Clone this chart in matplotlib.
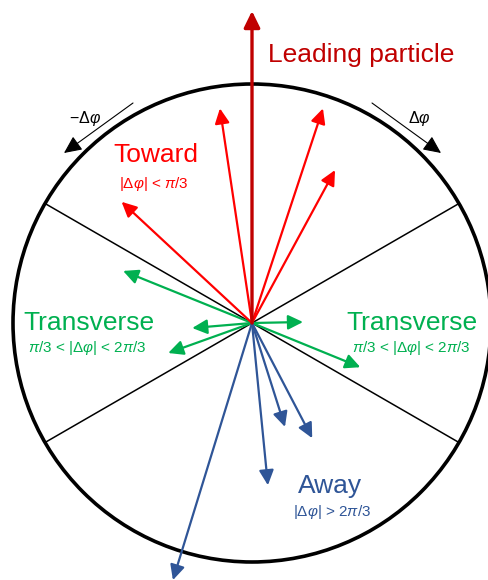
import numpy as np
import matplotlib
matplotlib.use("Agg")
from matplotlib import pyplot as plt
from matplotlib.patches import Circle

plt.rcParams['font.family'] = ['Liberation Sans', 'DejaVu Sans']
plt.rcParams['mathtext.fontset'] = 'custom'
plt.rcParams['mathtext.rm'] = 'Liberation Sans'
plt.rcParams['mathtext.it'] = 'Liberation Sans:italic'

# particle directions: angle (deg, clockwise from leading particle) and length (px)
leading_angle = 0.0
leading_len = 312

toward_angles = [-8.5, 18.3, 28.5, -47.1]
toward_lens = [217, 226, 174, 178]

trans_angles = [-68.0, -94.8, -109.7, 88.9, 112.2]
trans_lens = [139, 60, 89, 51, 117]

away_angles = [-162.9, 174.4, 162.4, 152.4]
away_lens = [269, 163, 109, 130]

region_edges = [60, 120, -60, -120]

dark_red = '#C00000'
red = '#FF0000'
green = '#00B050'
blue = '#2F5597'

cx, cy = 252, 323
R = 239


def tip(angle, length):
    a = np.radians(angle)
    return cx + length * np.sin(a), cy - length * np.cos(a)


def arrow(angle, length, color, lw=1.6, ms=20):
    ax.annotate('', xy=tip(angle, length), xytext=(cx, cy),
                arrowprops=dict(arrowstyle='-|>,head_length=0.45,head_width=0.22',
                                lw=lw, color=color, shrinkA=0, shrinkB=0,
                                mutation_scale=ms))


fig = plt.figure(figsize=(4.88, 5.80), dpi=100)
ax = fig.add_axes([0, 0, 1, 1])
ax.set_xlim(0, 488)
ax.set_ylim(580, 0)
ax.axis('off')

ax.add_patch(Circle((cx, cy), R, fill=False, lw=2.6, ec='black'))

for e in region_edges:
    x, y = tip(e, R)
    ax.plot([cx, x], [cy, y], color='black', lw=1.1)

for a, l in zip(trans_angles, trans_lens):
    arrow(a, l, green)
for a, l in zip(away_angles, away_lens):
    arrow(a, l, blue)
for a, l in zip(toward_angles, toward_lens):
    arrow(a, l, red)
arrow(leading_angle, leading_len, dark_red, lw=2.4, ms=22)

# delta phi direction arrows
ax.annotate('', xy=(64, 153), xytext=(133, 103),
            arrowprops=dict(arrowstyle='-|>,head_length=0.6,head_width=0.28',
                            lw=0.8, color='black', shrinkA=0, shrinkB=0, mutation_scale=18))
ax.annotate('', xy=(441, 153), xytext=(372, 103),
            arrowprops=dict(arrowstyle='-|>,head_length=0.6,head_width=0.28',
                            lw=0.8, color='black', shrinkA=0, shrinkB=0, mutation_scale=18))
ax.text(85, 123, '\u2212Δ$φ$', fontsize=11.5, ha='center', va='baseline')
ax.text(419, 123, 'Δ$φ$', fontsize=11.5, ha='center', va='baseline')

big = 19
small = 11
ax.text(268, 62, 'Leading particle', color=dark_red, fontsize=big, ha='left', va='baseline')
ax.text(155.5, 162.5, 'Toward', color=red, fontsize=big, ha='center', va='baseline')
ax.text(154, 188, '|Δ$φ$| < $π$/3', color=red, fontsize=small, ha='center', va='baseline')
ax.text(88.5, 330, 'Transverse', color=green, fontsize=big, ha='center', va='baseline')
ax.text(87.5, 352, '$π$/3 < |Δ$φ$| < 2$π$/3', color=green, fontsize=small, ha='center', va='baseline')
ax.text(411.5, 330, 'Transverse', color=green, fontsize=big, ha='center', va='baseline')
ax.text(411, 352, '$π$/3 < |Δ$φ$| < 2$π$/3', color=green, fontsize=small, ha='center', va='baseline')
ax.text(330.5, 493, 'Away', color=blue, fontsize=big, ha='center', va='baseline')
ax.text(332, 516, '|Δ$φ$| > 2$π$/3', color=blue, fontsize=small, ha='center', va='baseline')

fig.savefig('out.png', dpi=100)
